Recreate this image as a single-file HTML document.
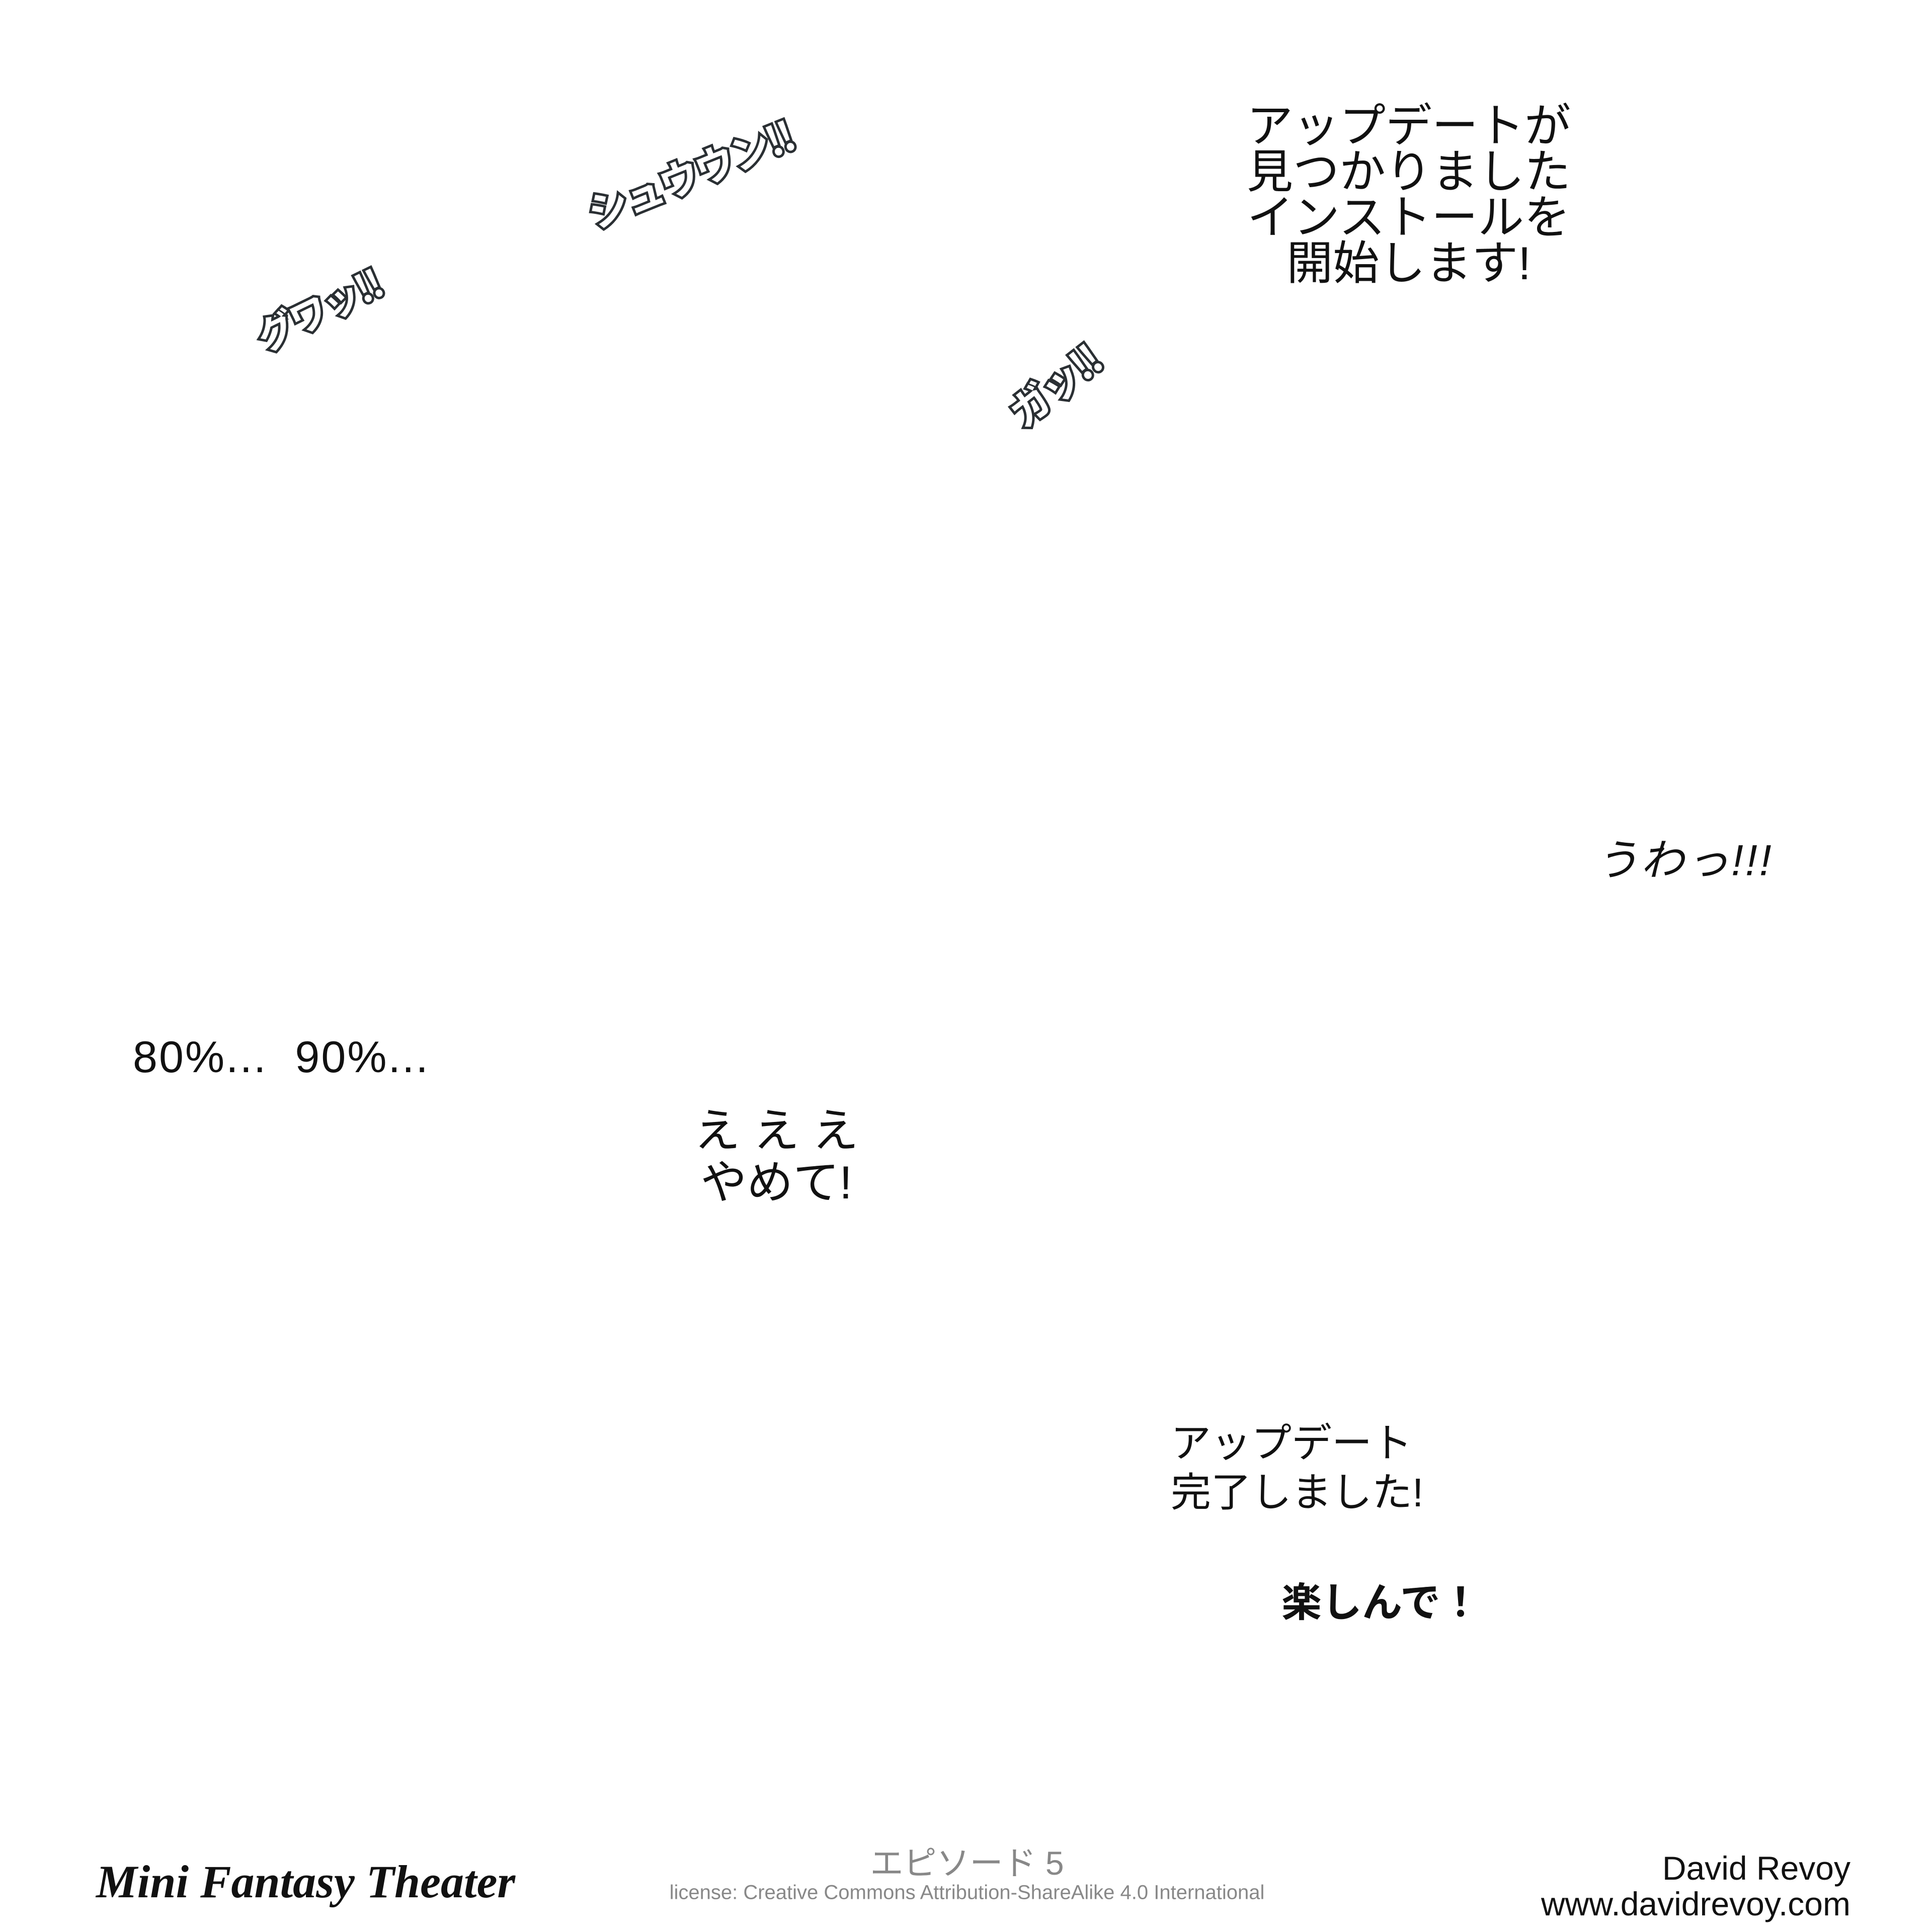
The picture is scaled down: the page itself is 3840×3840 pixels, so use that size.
<!DOCTYPE html>
<html><head><meta charset="utf-8"><style>
html,body{margin:0;padding:0;background:#fff;}
body{width:3840px;height:3840px;position:relative;overflow:hidden;font-family:"Liberation Sans","Noto Sans CJK JP",sans-serif;color:#111;}
.a{position:absolute;white-space:nowrap;}
.c{transform:translate(-50%,-50%);}
.o{color:#fff;-webkit-text-stroke:10px #2a2f33;paint-order:stroke fill;font-weight:bold;font-family:"Noto Sans CJK JP",sans-serif;letter-spacing:-4px;}
</style></head><body>
<div class="a" style="left:2800px;top:206px;transform:translateX(-50%);font-size:92px;line-height:91px;text-align:center;">アップデートが<br>見つかりました<br>インストールを<br>開始します!</div>
<div class="a o" style="left:1371px;top:343px;font-size:80px;transform:translate(-50%,-50%) rotate(-22deg);">シュウウン!!</div>
<div class="a o" style="left:632px;top:612px;font-size:76px;transform:translate(-50%,-50%) rotate(-26deg);">グワッ!!</div>
<div class="a o" style="left:2094px;top:764px;font-size:80px;transform:translate(-50%,-50%) rotate(-38deg);">ガッ!!</div>
<div class="a" style="left:3171px;top:1702px;transform:translateY(-50%);font-size:86px;font-style:italic;letter-spacing:4px;">うわっ!!!</div>
<div class="a" style="left:264px;top:2101px;transform:translateY(-50%);font-size:88px;letter-spacing:3px;">80%...&nbsp; 90%...</div>
<div class="a" style="left:1543px;top:2300px;transform:translate(-50%,-50%);font-size:92px;line-height:103px;text-align:center;">え え え<br>やめて!</div>
<div class="a" style="left:2327px;top:2820px;font-size:80px;line-height:98px;">アップデート<br>完了しました!</div>
<div class="a" style="left:2547px;top:3179px;transform:translateY(-50%);font-size:80px;font-weight:bold;">楽しんで！</div>
<div class="a" style="left:191px;top:3740px;transform:translateY(-50%);font-size:92px;font-style:italic;font-weight:bold;font-family:'Liberation Serif',serif;">Mini Fantasy Theater</div>
<div class="a c" style="left:1922px;top:3698px;font-size:66px;color:#888;">エピソード 5</div>
<div class="a c" style="left:1922px;top:3762px;font-size:40px;color:#888;">license: Creative Commons Attribution-ShareAlike 4.0 International</div>
<div class="a" style="right:162px;top:3713px;transform:translateY(-50%);font-size:66px;text-align:right;">David Revoy</div>
<div class="a" style="right:162px;top:3784px;transform:translateY(-50%);font-size:66px;text-align:right;">www.davidrevoy.com</div>
</body></html>
